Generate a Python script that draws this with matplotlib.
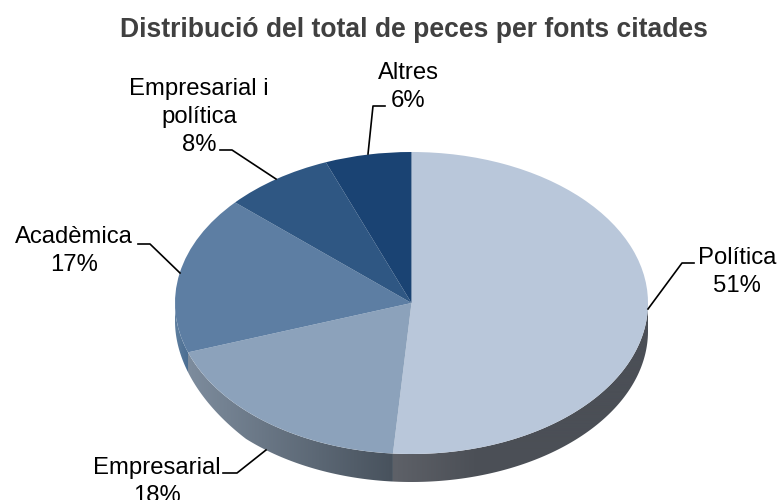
import matplotlib
matplotlib.use("Agg")
import matplotlib.pyplot as plt
from matplotlib.colors import LinearSegmentedColormap
from matplotlib.lines import Line2D
from matplotlib.patches import Polygon
import numpy as np

W, H = 779, 500

# ===== DATA =====
title = "Distribució del total de peces per fonts citades"
categories = ["Política", "Empresarial", "Acadèmica", "Empresarial i\npolítica", "Altres"]
values = [51.25, 18.45, 16.9, 7.5, 5.9]
percent_labels = ["51%", "18%", "17%", "8%", "6%"]

# ===== STYLE =====
top_colors = ["#b9c7da", "#8ca2bb", "#5d7ea3", "#2f5783", "#1a4373"]
wall_colors = [
    ["#5e6168", "#4b4f56", "#4b4f56", "#4b4f56"],
    ["#7d8c9d", "#48525d"],
    ["#5f7f9f", "#4a6d92"],
    ["#2f5783", "#2f5783"],
    ["#1a4373", "#1a4373"],
]
label_top = [(737, 247), (157, 457), (74, 226), (199, 78), (408, 62)]
leaders = [
    [(648, 309), (682, 263), (694, 263)],
    [(266, 450), (237, 473), (223, 473)],
    [(180, 273), (150, 244), (138, 244)],
    [(276, 179), (232, 150), (220, 150)],
    [(368, 154), (373, 106), (385, 106)],
]

cx, cy = 411.5, 303
rx, ry = 236.5, 151
depth = 28

fig = plt.figure(figsize=(W / 100, H / 100), dpi=100)
ax = fig.add_axes([0, 0, 1, 1])

# one data unit = pie radius, stretched into an ellipse
xlim = (-cx / rx, (W - cx) / rx)
ylim = ((cy - H) / ry, cy / ry)
d = depth / ry


def frac(p):
    return p[0] / W, 1 - p[1] / H


def wall_depth(xs):
    # wall gets thinner only at the far left edge
    return d * np.where(xs < -0.7, 1 + (xs + 0.7) * 1.2, 1.0)


# ===== TOP OF THE PIE =====
wedges, _ = ax.pie(
    values,
    colors=top_colors,
    startangle=90,
    counterclock=False,
    radius=1,
    center=(0, 0),
)
for w in wedges:
    w.set_zorder(5)

# ===== SIDE WALL =====
for w, cols in zip(wedges, wall_colors):
    t = np.radians(np.linspace(w.theta1, w.theta2, 400))
    t = t[np.sin(t) <= 0]
    if len(t) < 2:
        continue
    xs, ys = np.cos(t), np.sin(t)
    low = ys - wall_depth(xs)
    pts = np.vstack([
        np.column_stack([xs, ys]),
        np.column_stack([xs[::-1], low[::-1]]),
    ])
    clip = Polygon(pts, closed=True, transform=ax.transData, fc="none", ec="none")
    ax.add_patch(clip)
    cmap = LinearSegmentedColormap.from_list("wall", cols)
    im = ax.imshow(
        np.linspace(0, 1, 256).reshape(1, -1),
        cmap=cmap,
        extent=[xs.min(), xs.max(), low.min(), ys.max()],
        aspect="auto",
        zorder=3,
    )
    im.set_clip_path(clip)

ax.set_aspect("auto")
ax.set_xlim(*xlim)
ax.set_ylim(*ylim)
ax.axis("off")

# ===== TEXT =====
font = "Liberation Sans"
fig.text(*frac((414, 30)), title, ha="center", va="center", fontsize=19.1,
         fontweight="bold", color="#404040", family=font)

for cat, pct, pos in zip(categories, percent_labels, label_top):
    fig.text(*frac(pos), cat + "\n" + pct, ha="center", va="top", fontsize=17.2,
             color="black", family=font, linespacing=1.36)

# ===== LEADER LINES =====
for line in leaders:
    fx, fy = zip(*[frac(p) for p in line])
    fig.add_artist(Line2D(fx, fy, color="black", lw=1.2))

fig.savefig("out.png", dpi=100)
